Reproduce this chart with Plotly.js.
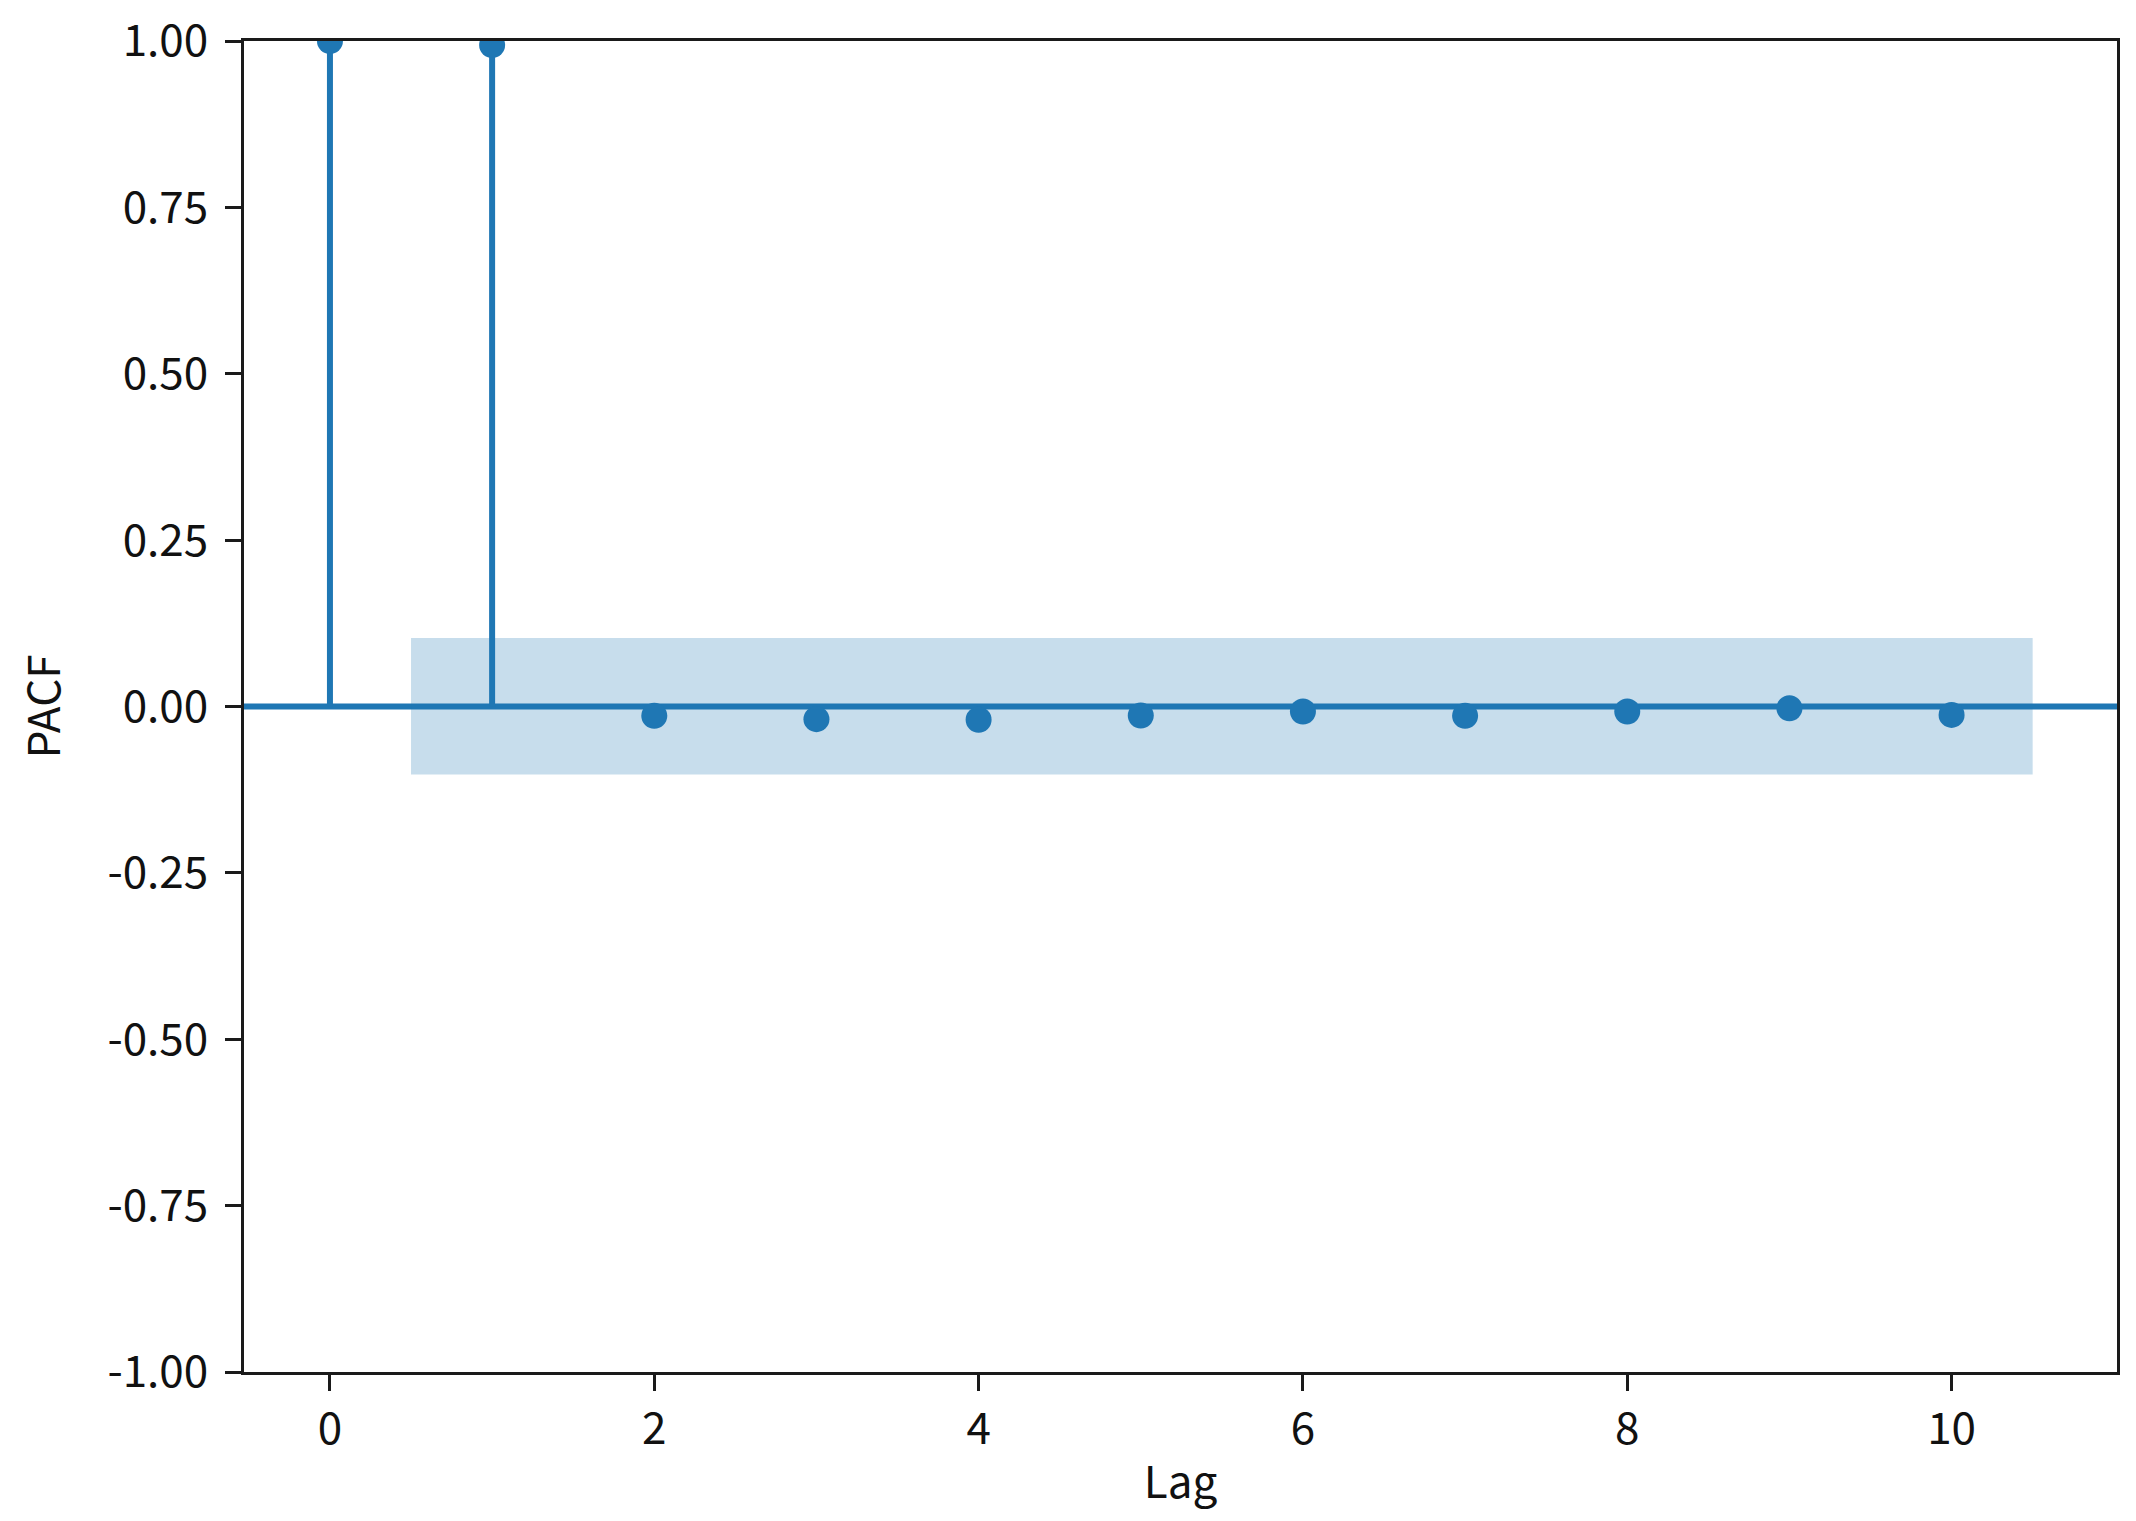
<!DOCTYPE html>
<html>
<head>
<meta charset="utf-8">
<script src="https://cdn.plot.ly/plotly-3.0.1.min.js"></script>
<style>
  html, body { margin: 0; padding: 0; background: #ffffff; }
  #chart { width: 2136px; height: 1521px; }
</style>
</head>
<body>
<div id="chart"></div>
<script>
// ---- data ----
const lags = [0, 1, 2, 3, 4, 5, 6, 7, 8, 9, 10];
const pacfValues = [1.0, 0.994, -0.014, -0.019, -0.020, -0.0135, -0.0075, -0.014, -0.0075, -0.0026, -0.0126];
const confLags = [0.5, 10.5];
const confUpper = [0.103, 0.103];
const confLower = [-0.102, -0.102];
const yTickVals = [-1.0, -0.75, -0.5, -0.25, 0.0, 0.25, 0.5, 0.75, 1.0];
const yTickText = ['-1.00', '-0.75', '-0.50', '-0.25', '0.00', '0.25', '0.50', '0.75', '1.00'];
const xTickVals = [0, 2, 4, 6, 8, 10];
const xTickText = ['0', '2', '4', '6', '8', '10'];

// ---- style ----
const blue = '#1f77b4';
const font = '"Noto Sans CJK SC", "Noto Sans", sans-serif';
const ink = '#111111';
const xRange = [-0.53, 11.02];

// stems built from the data
const stemX = [], stemY = [];
lags.forEach((l, i) => { stemX.push(l, l, null); stemY.push(0, pacfValues[i], null); });

const traces = [
  {
    x: stemX, y: stemY, type: 'scatter', mode: 'lines',
    line: { color: blue, width: 6 }, hoverinfo: 'skip', showlegend: false
  },
  {
    x: lags, y: pacfValues, type: 'scatter', mode: 'markers',
    marker: { color: blue, size: 26, line: { width: 0 } }, showlegend: false
  }
];

const shapes = [
  {
    type: 'rect', layer: 'below', xref: 'x', yref: 'y',
    x0: confLags[0], x1: confLags[confLags.length - 1],
    y0: confLower[0], y1: confUpper[0],
    fillcolor: 'rgba(31,119,180,0.25)', line: { width: 0 }
  },
  {
    type: 'line', layer: 'below', xref: 'paper', yref: 'y',
    x0: 0, x1: 1, y0: 0, y1: 0,
    line: { color: blue, width: 6 }
  }
];

const axisCommon = {
  showline: true, mirror: true, linecolor: '#1a1a1a', linewidth: 3,
  ticks: 'outside', ticklen: 16, tickwidth: 3, tickcolor: '#1a1a1a',
  showgrid: false, zeroline: false,
  tickfont: { family: font, size: 44, color: ink }
};

const layout = {
  width: 2136, height: 1521,
  paper_bgcolor: '#ffffff', plot_bgcolor: '#ffffff',
  margin: { l: 244, r: 19, t: 41, b: 149, pad: 0 },
  showlegend: false,
  font: { family: font, color: ink },
  xaxis: Object.assign({}, axisCommon, {
    range: xRange, tickmode: 'array', tickvals: xTickVals, ticktext: xTickText,
    title: { text: 'Lag', font: { family: font, size: 44, color: ink }, standoff: 12 }
  }),
  yaxis: Object.assign({}, axisCommon, {
    range: [-1, 1], tickmode: 'array', tickvals: yTickVals, ticktext: yTickText,
    ticklabelstandoff: 8,
    title: { text: 'PACF', font: { family: font, size: 44, color: ink }, standoff: 34 }
  }),
  shapes: shapes
};

Plotly.newPlot('chart', traces, layout, { displayModeBar: false, staticPlot: true });
</script>
</body>
</html>
